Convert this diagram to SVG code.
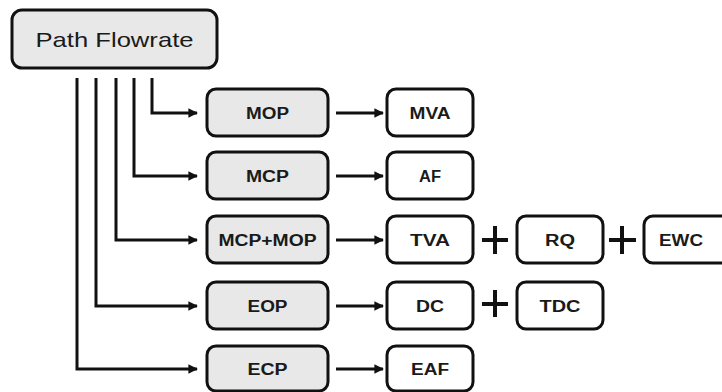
<svg xmlns="http://www.w3.org/2000/svg" width="722" height="392" viewBox="0 0 722 392">
  <style>
    .gray { fill: #e8e8e8; stroke: #111; stroke-width: 3; }
    .white { fill: #fff; stroke: #111; stroke-width: 3; }
    .lbl { font-family: "Liberation Sans", Arial, sans-serif; font-size: 16px; font-weight: bold; fill: #1a1a1a; text-anchor: middle; }
    .title { font-family: "Liberation Sans", Arial, sans-serif; font-size: 21px; fill: #1a1a1a; text-anchor: middle; }
    .wire { fill: none; stroke: #111; stroke-width: 3; }
    .plus { stroke: #111; stroke-width: 4; }
  </style>
  <defs>
    <marker id="arrow" viewBox="0 0 10 10" refX="9" refY="5" markerWidth="3.2" markerHeight="3.4" markerUnits="strokeWidth" orient="auto">
      <path d="M0,0 L10,5 L0,10 z" fill="#111"/>
    </marker>
  </defs>
  <rect width="722" height="392" fill="#fff"/>

  <!-- connectors -->
  <g id="connectors" class="wire" marker-end="url(#arrow)">
    <path d="M152,78 V113 H197"/>
    <path d="M134,78 V176 H197"/>
    <path d="M116,78 V240 H197"/>
    <path d="M96,78 V306 H197"/>
    <path d="M77,78 V369 H197"/>
    <path d="M336,113 H383"/>
    <path d="M336,176 H383"/>
    <path d="M336,240 H383"/>
    <path d="M336,306 H383"/>
    <path d="M336,369 H383"/>
  </g>

  <!-- plus signs -->
  <g id="plus-signs" class="plus">
    <path d="M482,240 H508 M495,226 V254"/>
    <path d="M609,240 H636 M622,226 V254"/>
    <path d="M482,304 H508 M495,290 V317"/>
  </g>

  <g id="path-flowrate">
    <rect class="gray" x="12" y="10" width="205" height="58" rx="10"/>
    <text class="title" x="114.5" y="47" textLength="158" lengthAdjust="spacingAndGlyphs">Path Flowrate</text>
  </g>

  <g id="mop">
    <rect class="gray" x="207" y="89" width="121" height="47" rx="9"/>
    <text class="lbl" x="267.5" y="119" textLength="43" lengthAdjust="spacingAndGlyphs">MOP</text>
  </g>
  <g id="mcp">
    <rect class="gray" x="207" y="152" width="121" height="47" rx="9"/>
    <text class="lbl" x="267.5" y="182" textLength="43" lengthAdjust="spacingAndGlyphs">MCP</text>
  </g>
  <g id="mcp-mop">
    <rect class="gray" x="207" y="216" width="121" height="47" rx="9"/>
    <text class="lbl" x="267.5" y="246" textLength="98" lengthAdjust="spacingAndGlyphs">MCP+MOP</text>
  </g>
  <g id="eop">
    <rect class="gray" x="207" y="282" width="121" height="47" rx="9"/>
    <text class="lbl" x="267.5" y="312" textLength="40" lengthAdjust="spacingAndGlyphs">EOP</text>
  </g>
  <g id="ecp">
    <rect class="gray" x="207" y="346" width="121" height="45" rx="9"/>
    <text class="lbl" x="267.5" y="375" textLength="40" lengthAdjust="spacingAndGlyphs">ECP</text>
  </g>

  <g id="mva">
    <rect class="white" x="387" y="89" width="86" height="47" rx="9"/>
    <text class="lbl" x="430" y="119" textLength="41" lengthAdjust="spacingAndGlyphs">MVA</text>
  </g>
  <g id="af">
    <rect class="white" x="387" y="152" width="86" height="47" rx="9"/>
    <text class="lbl" x="430" y="182" textLength="22" lengthAdjust="spacingAndGlyphs">AF</text>
  </g>
  <g id="tva">
    <rect class="white" x="387" y="216" width="86" height="47" rx="9"/>
    <text class="lbl" x="430" y="246" textLength="40" lengthAdjust="spacingAndGlyphs">TVA</text>
  </g>
  <g id="dc">
    <rect class="white" x="387" y="282" width="86" height="47" rx="9"/>
    <text class="lbl" x="430" y="312" textLength="28" lengthAdjust="spacingAndGlyphs">DC</text>
  </g>
  <g id="eaf">
    <rect class="white" x="387" y="346" width="86" height="45" rx="9"/>
    <text class="lbl" x="430" y="375" textLength="38" lengthAdjust="spacingAndGlyphs">EAF</text>
  </g>

  <g id="rq">
    <rect class="white" x="517" y="216" width="86" height="47" rx="9"/>
    <text class="lbl" x="560" y="246" textLength="30" lengthAdjust="spacingAndGlyphs">RQ</text>
  </g>
  <g id="ewc">
    <rect class="white" x="644" y="216" width="96" height="47" rx="9"/>
    <text class="lbl" x="681" y="246" textLength="44" lengthAdjust="spacingAndGlyphs">EWC</text>
  </g>
  <g id="tdc">
    <rect class="white" x="517" y="282" width="86" height="47" rx="9"/>
    <text class="lbl" x="560" y="312" textLength="41" lengthAdjust="spacingAndGlyphs">TDC</text>
  </g>
</svg>
